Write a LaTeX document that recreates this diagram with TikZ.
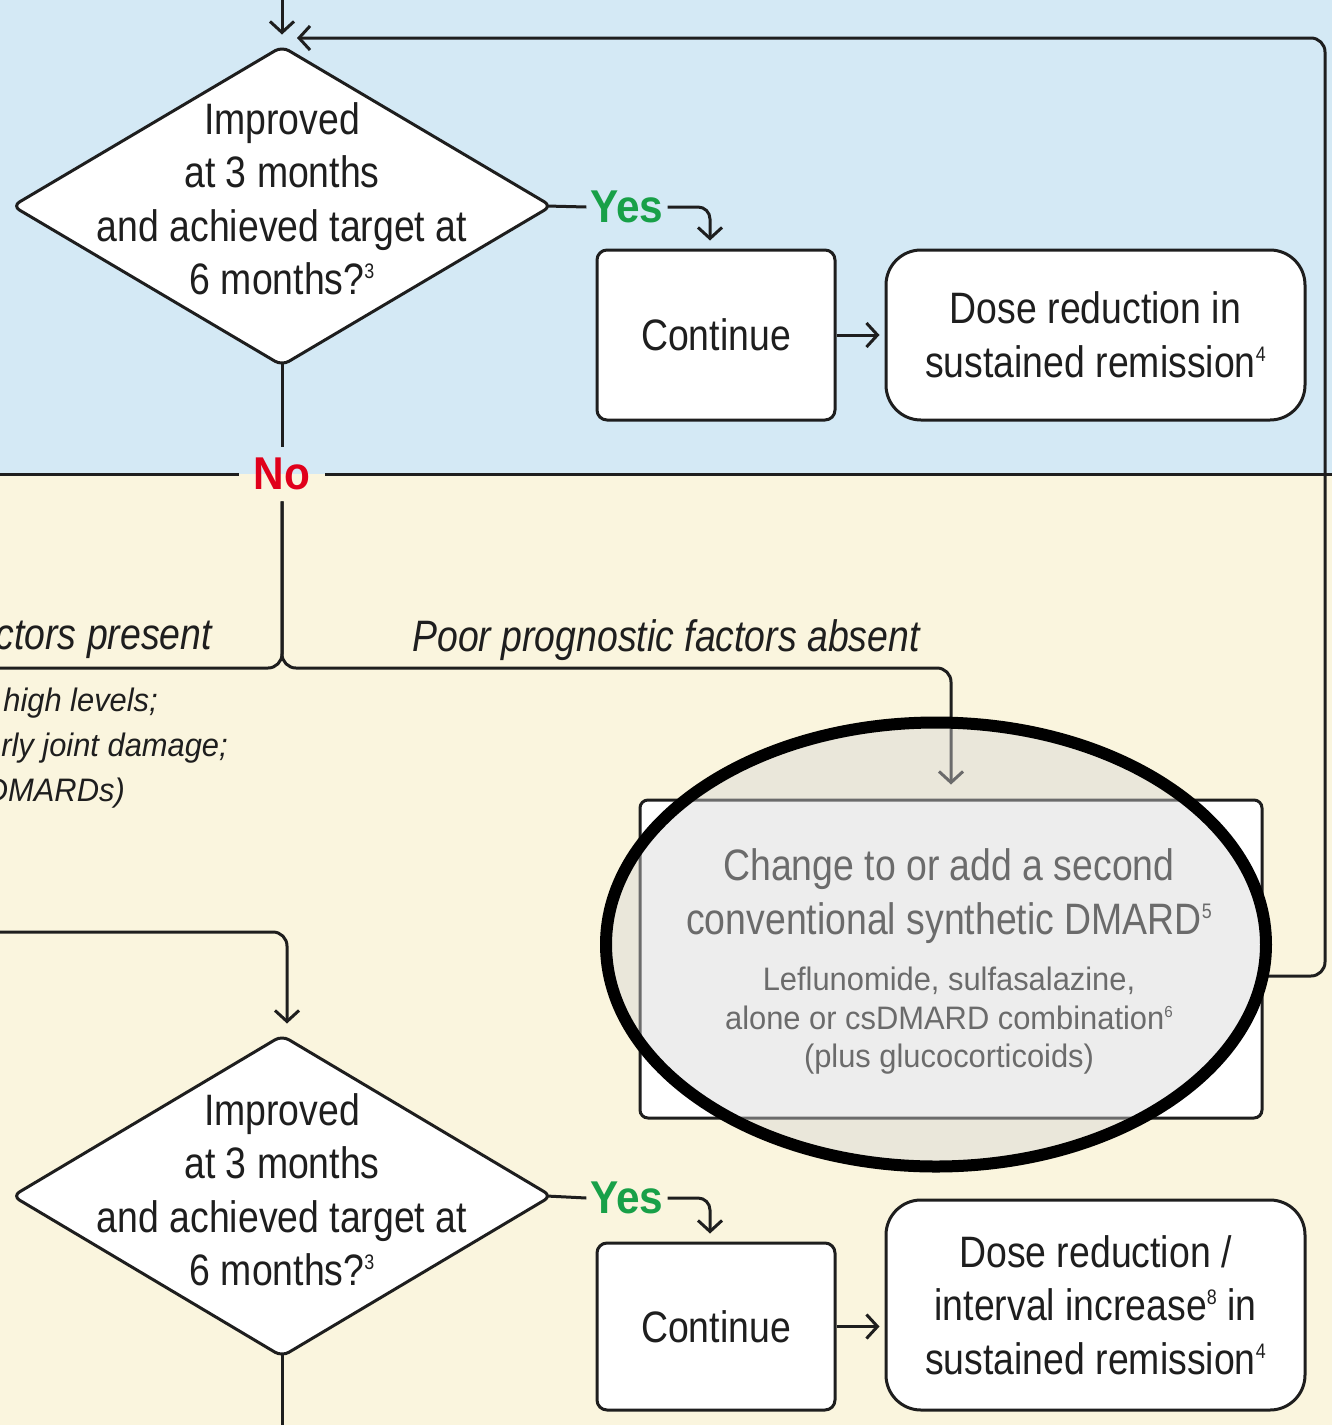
\documentclass[tikz,border=0pt]{standalone}
\usepackage{fontspec}
\setmainfont{Liberation Sans}[FakeStretch=0.85]
\newfontfamily\smallf{Liberation Sans}[FakeStretch=0.95]
\newfontfamily\boldf{Liberation Sans}[FakeStretch=0.92]
\usetikzlibrary{shapes.geometric,arrows.meta}
\definecolor{bgblue}{RGB}{212,233,245}
\definecolor{bgbeige}{RGB}{250,245,222}
\definecolor{yesgreen}{RGB}{24,160,72}
\definecolor{nored}{RGB}{224,0,27}
\definecolor{ink}{RGB}{30,30,30}
\definecolor{ovl}{gray}{0.84}
\newcommand{\fnote}[1]{\raisebox{16pt}{\fontsize{21}{21}\selectfont #1}}
\newcommand{\fnotes}[1]{\raisebox{12pt}{\fontsize{16}{16}\selectfont #1}}
\begin{document}
\begin{tikzpicture}[x=1pt,y=-1pt,
  ln/.style={line width=3pt, draw=ink},
  arr/.style={ln, -{Straight Barb[length=11pt,width=24pt]}},
  txt/.style={align=center, inner sep=0pt, text=ink, font=\fontsize{44}{53.5}\selectfont},
  smalltxt/.style={align=center, inner sep=0pt, text=ink, font=\smallf\fontsize{32.5}{38.5}\selectfont},
  ital/.style={inner sep=0pt, text=ink, font=\itshape\fontsize{44}{53.5}\selectfont},
  smallital/.style={inner sep=0pt, text=ink, font=\smallf\itshape\fontsize{32.5}{38.5}\selectfont},
  dia/.style={diamond, draw=ink, line width=3pt, fill=white, minimum width=540pt, minimum height=320pt, inner sep=0pt, rounded corners=8pt},
  sqbox/.style={draw=ink, line width=3pt, fill=white, rounded corners=10pt, minimum width=238pt, inner sep=0pt, txt},
  rbox/.style={draw=ink, line width=3pt, fill=white, rounded corners=35pt, minimum width=419pt, inner sep=0pt, txt},
  yes/.style={inner xsep=4pt, inner ysep=2pt, text=yesgreen, font=\boldf\bfseries\fontsize{46}{50}\selectfont},
  no/.style={inner xsep=15pt, inner ysep=11pt, text=nored, font=\boldf\bfseries\fontsize{46}{50}\selectfont}
]
\useasboundingbox (0,0) rectangle (1332,1425);
\fill[bgblue] (0,0) rectangle (1332,474);
\fill[bgbeige] (0,474) rectangle (1332,1425);

% nodes, top part
\node[dia] (d1) at (282,206) {};
\node[txt] (d1t) at (282,199) {Improved\\at 3 months\\and achieved target at\\6 months?\fnote{3}};
\node[yes] (y1) at (627,207) {Yes};
\node[sqbox, minimum height=170pt] (c1) at (716,335) {Continue};
\node[rbox, minimum height=170pt] (r1) at (1095.5,335) {Dose reduction in\\sustained remission\fnote{4}};
\node[no] (no) at (282,474) {No};

% labels of the branches
\node[ital, anchor=east] (pp) at (212,640) {ctors present};
\node[ital] (pa) at (666,640) {Poor prognostic factors absent};
\node[smallital, anchor=east] (l1) at (158,703) {high levels;};
\node[smallital, anchor=east] (l2) at (228,748) {rly joint damage;};
\node[smallital, anchor=east] (l3) at (125,793) {DMARDs)};

% csDMARD box
\node[draw=ink, line width=3pt, fill=white, rounded corners=8pt, minimum width=622pt, minimum height=318pt, inner sep=0pt] (g) at (951,959) {};
\node[txt] (gt1) at (949,896) {Change to or add a second\\conventional synthetic DMARD\fnote{5}};
\node[smalltxt] (gt2) at (949,1021) {Leflunomide, sulfasalazine,\\alone or csDMARD combination\fnotes{6}\\(plus glucocorticoids)};

% bottom part
\node[dia, minimum height=322pt] (d2) at (282,1196) {};
\node[txt] (d2t) at (282,1190) {Improved\\at 3 months\\and achieved target at\\6 months?\fnote{3}};
\node[yes] (y2) at (627,1198) {Yes};
\node[sqbox, minimum height=167pt] (c2) at (716,1326.5) {Continue};
\node[rbox, minimum height=210pt] (r2) at (1095.5,1305) {Dose reduction /\\interval increase\fnote{8} in\\sustained remission\fnote{4}};

% free ends
\coordinate (topin) at (282,0);
\coordinate (fbend) at (297,38);
\coordinate (divL) at (0,474);
\coordinate (divR) at (1332,474);
\coordinate (jn) at (282,668);
\coordinate (leftout) at (0,668);
\coordinate (leftin) at (0,932);
\coordinate (botout) at (282,1425);

% connectors
\draw[arr, shorten >=10pt] (topin) -- (d1.north);
\draw[arr, rounded corners=14pt] ([yshift=-17pt]g.east) -- (1325,976) -- (1325,38) -- (fbend);
\draw[ln] ([xshift=-7pt]d1.east) -- (y1.west);
\draw[arr, rounded corners=12pt, shorten >=8pt] (y1.east) -| ([xshift=-6pt]c1.north);
\draw[arr, shorten >=5pt] (c1.east) -- (r1.west);
\draw[ln] ([yshift=5pt]d1.south) -- (no.north);
\draw[ln] (divL) -- (no.west);
\draw[ln] (no.east) -- (divR);
\draw[ln, rounded corners=14pt] (no.south) |- (leftout);
\draw[arr, rounded corners=14pt, shorten >=14pt] (no.south) -- (jn) -| (g.north);
\draw[arr, rounded corners=14pt, shorten >=10pt] (leftin) -| ([xshift=5pt]d2.north);
\draw[ln] ([xshift=-7pt]d2.east) -- (y2.west);
\draw[arr, rounded corners=12pt, shorten >=8pt] (y2.east) -| ([xshift=-6pt]c2.north);
\draw[arr, shorten >=5pt] (c2.east) -- (c2.east -| r2.west);
\draw[ln] ([yshift=5pt]d2.south) -- (botout);

% highlight ellipse
\draw[line width=12pt, draw=black, fill=ovl, fill opacity=0.42] (936,944.5) ellipse [x radius=330, y radius=222];
\end{tikzpicture}
\end{document}
